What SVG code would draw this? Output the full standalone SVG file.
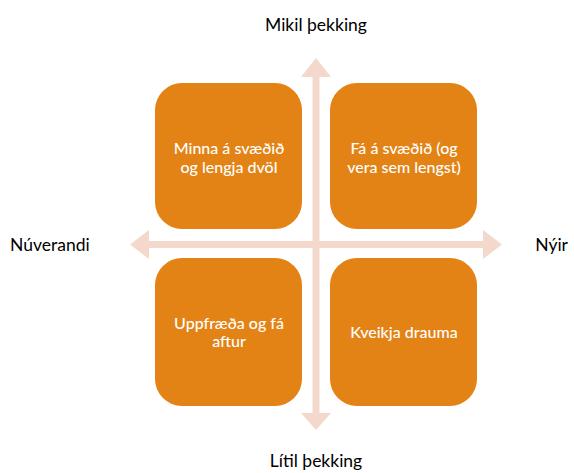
<svg xmlns="http://www.w3.org/2000/svg" width="574" height="473" viewBox="0 0 574 473">
  <style>
    .axis { fill: #F4D8CC; }
    .box { fill: #E38316; }
    .boxtext { font-family: Lato, "Open Sans", sans-serif; font-size: 16px; font-weight: 500; fill: #FFFFFF; text-anchor: middle; }
    .label { font-family: Lato, "Open Sans", sans-serif; font-size: 17.5px; fill: #000000; }
  </style>
  <rect width="574" height="473" fill="#FFFFFF"/>

  <!-- axes: two double-headed block arrows -->
  <g id="connectors">
    <polygon class="axis" points="316,58 331,77 319.5,77 319.5,413 331,413 316,430 301,413 312.5,413 312.5,77 301,77"/>
    <polygon class="axis" points="130,244.5 149,230 149,241 483,241 483,230 502,244.5 483,259 483,248 149,248 149,259"/>
  </g>

  <g id="node-top-left">
    <rect class="box" x="155" y="83" width="147" height="146" rx="27" ry="27"/>
    <text class="boxtext" x="229" y="154">Minna á svæðið</text>
    <text class="boxtext" x="229" y="173">og lengja dvöl</text>
  </g>
  <g id="node-top-right">
    <rect class="box" x="330" y="83" width="147" height="146" rx="27" ry="27"/>
    <text class="boxtext" x="404" y="154">Fá á svæðið (og</text>
    <text class="boxtext" x="404" y="173">vera sem lengst)</text>
  </g>
  <g id="node-bottom-left">
    <rect class="box" x="155" y="258" width="147" height="148" rx="27" ry="27"/>
    <text class="boxtext" x="229" y="329">Uppfræða og fá</text>
    <text class="boxtext" x="229" y="347">aftur</text>
  </g>
  <g id="node-bottom-right">
    <rect class="box" x="330" y="258" width="147" height="148" rx="27" ry="27"/>
    <text class="boxtext" x="404" y="338">Kveikja drauma</text>
  </g>

  <g id="axis-labels">
    <text class="label" x="316" y="31" text-anchor="middle">Mikil þekking</text>
    <text class="label" x="316" y="467" text-anchor="middle">Lítil þekking</text>
    <text class="label" x="10" y="251">Núverandi</text>
    <text class="label" x="568" y="251" text-anchor="end">Nýir</text>
  </g>
</svg>
